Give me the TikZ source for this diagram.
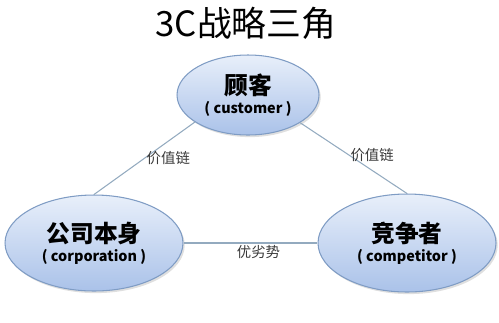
\documentclass[tikz,border=0pt]{standalone}
\usepackage{fontspec}
\setmainfont{Noto Sans CJK SC}
\usetikzlibrary{shapes.geometric,shadows}
\definecolor{elTop}{HTML}{E8EFFA}
\definecolor{elBot}{HTML}{AAC2E9}
\definecolor{elRule}{HTML}{7F9CC4}
\definecolor{lnGrey}{HTML}{93AABF}
\definecolor{txGrey}{HTML}{3A3A3A}

\begin{document}
\begin{tikzpicture}[x=0.02cm,y=-0.02cm,
  ell/.style={ellipse,draw=elRule,line width=0.6pt,top color=elTop,bottom color=elBot,
              inner sep=0pt,align=center,text=black,
              drop shadow={opacity=0.25,shadow xshift=1pt,shadow yshift=-1.2pt}},
  ln/.style={draw=lnGrey,line width=0.6pt},
  lab/.style={font=\fontsize{8.2}{10}\selectfont,text=txGrey,inner sep=1pt}]
\useasboundingbox (0,0) rectangle (499,322);
\node (title) at (246,23) {\fontsize{19.8}{23}\selectfont 3C战略三角};
\node[ell,minimum width=2.84cm,minimum height=1.6cm] (cust) at (248,95)
  {{\fontsize{13.5}{16}\selectfont\bfseries 顾客}\\[-1pt]{\fontsize{8.2}{10}\selectfont\bfseries ( customer )}};
\node[ell,minimum width=3.56cm,minimum height=1.92cm] (corp) at (94,243)
  {{\fontsize{13.5}{16}\selectfont\bfseries 公司本身}\\[-1pt]{\fontsize{8.2}{10}\selectfont\bfseries ( corporation )}};
\node[ell,minimum width=3.56cm,minimum height=1.96cm] (comp) at (407,243)
  {{\fontsize{13.5}{16}\selectfont\bfseries 竞争者}\\[-1pt]{\fontsize{8.2}{10}\selectfont\bfseries ( competitor )}};
% connectors
\draw[ln] (cust.207) -- node[lab,pos=.5,anchor=west] (v1) {价值链} (corp.north);
\draw[ln] (cust.332) -- node[lab,pos=.45,anchor=west] (v2) {价值链} (comp.north);
\draw[ln] (corp.east) -- node[lab,below,xshift=8*0.02cm] (v3) {优劣势} (comp.west);
\end{tikzpicture}
\end{document}
